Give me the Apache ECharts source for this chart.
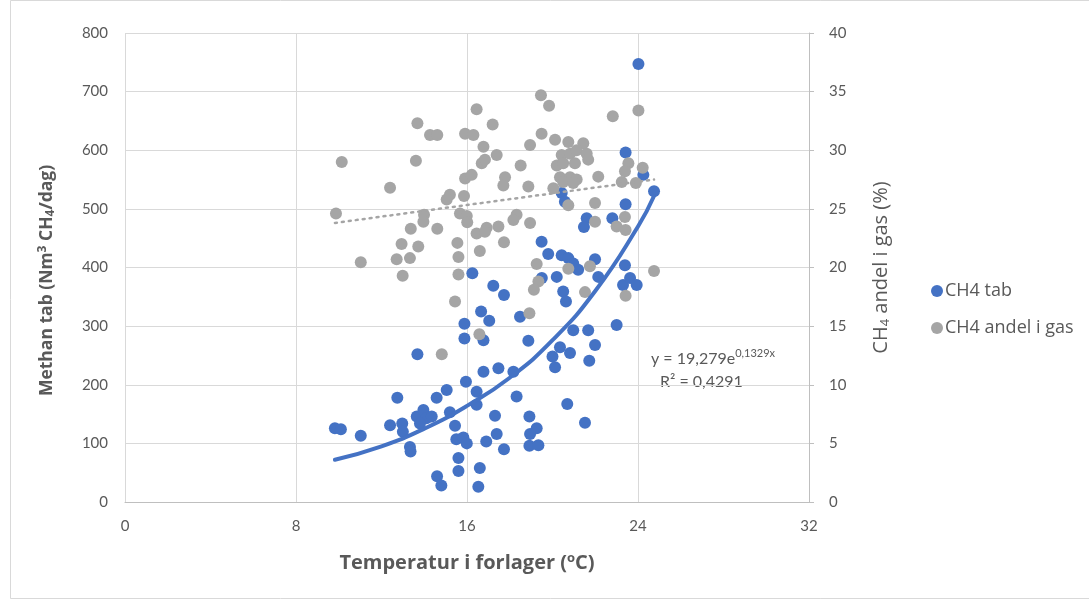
<!DOCTYPE html>
<html>
<head>
<meta charset="utf-8">
<script src="https://cdn.jsdelivr.net/npm/echarts@6/dist/echarts.min.js"></script>
<style>
html,body{margin:0;padding:0;background:#fff;}
#c{width:1089px;height:600px;}
</style>
</head>
<body>
<div id="c"></div>
<script>
// Temperature (x) and methane loss (Nm3 CH4/dag) – "CH4 tab"
var tabX = [9.82,10.1,11.03,12.4,12.74,12.97,13.0,13.33,13.36,13.68,13.65,13.96,14.1,13.8,14.35,14.58,15.05,15.2,14.6,14.8,
  15.44,15.5,15.83,15.99,15.6,15.6,15.95,16.45,16.45,16.6,16.53,16.77,16.9,15.88,15.88,16.66,16.77,16.25,17.04,17.23,
  17.73,18.48,18.87,17.47,18.17,18.32,17.31,17.39,17.73,18.92,19.26,18.95,18.92,19.34,20.69,21.52,19.49,19.8,20.43,20.74,
  20.97,21.2,21.99,20.2,20.5,20.63,22.14,19.5,23.39,23.3,23.63,23.94,23.0,20.97,21.67,21.99,21.72,20.35,20.82,20.0,
  20.12,24.02,23.42,24.25,24.75,23.42,20.43,20.58,21.6,21.47,22.8];
var tabY = [126,124,113,131,178,134,120,94,86,252,146,157,143,134,146,178,191,153,44,28,
  130,107,110,100,75,53,205,188,166,58,26,222,103,304,279,325,276,390,309,369,
  353,316,275,228,222,180,147,116,90,146,126,116,96,97,167,135,444,423,421,416,
  407,396,414,384,359,342,384,382,404,370,382,370,302,293,293,268,241,264,254,248,
  230,747,596,558,530,508,527,512,484,469,484];

// Temperature (x) and CH4 share of gas (%) – "CH4 andel i gas"
var gasX = [16.45,13.68,14.27,14.61,15.91,16.3,10.14,13.61,16.77,17.2,16.69,16.84,12.4,15.91,16.22,15.86,15.2,15.05,9.87,13.99,
  13.96,15.67,15.99,16.01,13.37,14.61,16.45,16.92,12.94,13.72,15.55,12.71,13.33,15.6,16.6,11.03,12.99,15.6,15.44,16.58,
  14.82,19.46,19.84,22.82,24.02,19.49,20.12,18.95,20.74,21.44,20.43,20.82,21.13,21.6,21.67,17.39,18.51,20.2,20.5,21.05,
  17.78,17.7,18.87,20.04,20.35,20.82,21.13,20.5,20.97,22.14,20.74,21.99,23.55,23.39,23.24,23.9,24.22,18.32,18.17,18.95,
  17.47,16.84,17.73,21.99,23.39,23.0,23.42,19.26,20.74,21.75,24.75,19.34,19.13,21.52,23.42,18.92];
var gasY = [33.5,32.3,31.3,31.3,31.4,31.3,29.0,29.1,30.3,32.2,28.9,29.2,26.8,27.6,27.9,26.1,26.2,25.8,24.6,24.5,
  23.9,24.6,24.4,23.85,23.3,23.3,22.9,23.4,22.0,21.8,22.1,20.7,20.8,20.9,21.4,20.45,19.3,19.4,17.1,14.3,
  12.6,34.7,33.8,32.9,33.4,31.4,30.9,30.45,30.7,30.6,29.6,29.7,30.0,29.7,29.2,29.6,28.7,28.7,28.9,28.9,
  27.7,27.0,26.9,26.75,27.7,27.7,27.5,27.3,27.2,27.75,25.3,25.5,28.9,28.2,27.3,27.2,28.5,24.5,24.05,23.8,
  23.5,23.05,22.15,23.9,24.3,23.5,23.2,20.3,19.9,20.1,19.7,18.8,18.1,17.9,17.6,16.1];

// Trendlines
var trendTabX = [9.82,12,14,16,18,20,22,24,24.75];
var trendTabY = [72,95,125,164,212,276,360,470,522];
var trendGasX = [9.82,24.75];
var trendGasY = [23.8,27.5];

var xTicks = {min:0,max:32,interval:8};
var yLeft = {min:0,max:800,interval:100};
var yRight = {min:0,max:40,interval:5};

function pairs(a,b){return a.map(function(v,i){return [v,b[i]];});}

var font = 'Lato, "Open Sans", sans-serif';
var wfont = '"Open Sans", Lato, sans-serif';
var txt = '#595959';
var chart = echarts.init(document.getElementById('c'));
chart.setOption({
  animation:false,
  backgroundColor:'#fff',
  textStyle:{fontFamily:font},
  grid:{left:125,right:280,top:33,bottom:98,containLabel:false},
  legend:{
    orient:'vertical', left:926, top:277, itemGap:19, itemWidth:12, itemHeight:12,
    icon:'circle',
    textStyle:{color:txt,fontSize:18,fontFamily:wfont,padding:[0,0,0,-3]},
    data:['CH4 tab','CH4 andel i gas']
  },
  xAxis:{
    type:'value', min:xTicks.min, max:xTicks.max, interval:xTicks.interval,
    axisLine:{show:true,lineStyle:{color:'#bfbfbf',width:1}},
    axisTick:{show:false},
    splitLine:{show:true,lineStyle:{color:'#d9d9d9',width:1}},
    axisLabel:{color:txt,fontSize:15,margin:17,fontFamily:font},
    name:'Temperatur i forlager ({sup|o}C)', nameLocation:'middle', nameGap:50,
    nameTextStyle:{color:txt,fontSize:20,fontWeight:'bold',fontFamily:wfont,
      rich:{sup:{fontSize:13,fontWeight:'bold',color:txt,padding:[0,0,9,0],fontFamily:wfont}}}
  },
  yAxis:[{
    type:'value', min:yLeft.min, max:yLeft.max, interval:yLeft.interval,
    axisLine:{show:false}, axisTick:{show:false},
    splitLine:{show:true,lineStyle:{color:'#d9d9d9',width:1}},
    axisLabel:{color:txt,fontSize:15,margin:17,fontFamily:font},
    name:'Methan tab (Nm{sup|3} CH{sub|4}/dag)', nameLocation:'middle', nameGap:68, nameRotate:90,
    nameTextStyle:{color:txt,fontSize:17.5,fontWeight:'bold',fontFamily:wfont,padding:[0,26,0,0],
      rich:{sup:{fontSize:12,fontWeight:'bold',color:txt,padding:[0,0,8,0],fontFamily:wfont},
            sub:{fontSize:12,fontWeight:'bold',color:txt,padding:[8,0,0,0],fontFamily:wfont}}}
  },{
    type:'value', position:'right', min:yRight.min, max:yRight.max, interval:yRight.interval,
    axisLine:{show:true,lineStyle:{color:'#bfbfbf',width:1}},
    axisTick:{show:true,length:5,lineStyle:{color:'#bfbfbf'}},
    splitLine:{show:false},
    axisLabel:{color:txt,fontSize:15,margin:20,fontFamily:font},
    name:'CH{sub|4} andel i gas (%)', nameLocation:'middle', nameGap:61, nameRotate:90,
    nameTextStyle:{color:txt,fontSize:20,fontFamily:wfont,
      rich:{sub:{fontSize:13,color:txt,padding:[9,0,0,0],fontFamily:wfont}}}
  }],
  series:[{
    name:'CH4 tab', type:'scatter', yAxisIndex:0, symbol:'circle', symbolSize:12,
    itemStyle:{color:'#4472C4',opacity:1},
    data:pairs(tabX,tabY), z:2
  },{
    name:'CH4 andel i gas', type:'scatter', yAxisIndex:1, symbol:'circle', symbolSize:12,
    itemStyle:{color:'#A5A5A5',opacity:1},
    data:pairs(gasX,gasY), z:3
  },{
    name:'trendTab', type:'line', yAxisIndex:0, smooth:true, symbol:'none', silent:true,
    lineStyle:{color:'#4472C4',width:4,cap:'round'},
    data:pairs(trendTabX,trendTabY), z:4
  },{
    name:'trendGas', type:'line', yAxisIndex:1, symbol:'none', silent:true,
    lineStyle:{color:'#A5A5A5',width:2.5,type:[2,5],cap:'round'},
    data:pairs(trendGasX,trendGasY), z:4
  }],
  graphic:[{
    type:'rect', left:8, top:-2, shape:{width:1100,height:598},
    style:{fill:'none',stroke:'#d9d9d9',lineWidth:1}, silent:true
  },{
    type:'text', left:651, top:348,
    style:{text:'y = 19,279e{sup|0,1329x}', fill:txt, font:'16px '+font,
      rich:{sup:{fontSize:11,fill:txt,padding:[0,0,10,0],fontFamily:font}}}
  },{
    type:'text', left:660, top:374,
    style:{text:'R² = 0,4291', fill:txt, font:'16px '+font}
  }]
});
</script>
</body>
</html>
